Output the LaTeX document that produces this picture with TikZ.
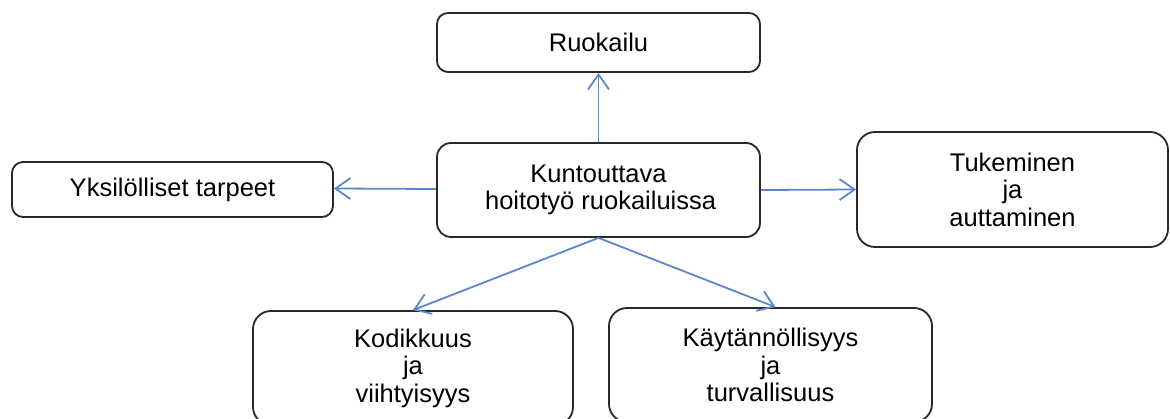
\documentclass[tikz,border=0pt]{standalone}
\usepackage{fontspec}
\setmainfont{Liberation Sans}
\usetikzlibrary{arrows.meta}
\definecolor{linkblue}{RGB}{92,135,198}
\definecolor{boxline}{RGB}{40,40,40}
\tikzset{
  topic/.style={draw=boxline, line width=1.8pt, rounded corners=14pt, fill=white,
    align=center, inner sep=0pt, text=black,
    font=\fontsize{25.5}{27.5}\selectfont},
  link/.style={draw=linkblue, line width=1.8pt,
    -{Straight Barb[length=15pt,width=21pt,line width=1.8pt]}},
}
\begin{document}
\begin{tikzpicture}[x=1pt,y=-1pt]
  \useasboundingbox (0,0) rectangle (1170,419);
  \clip (0,0) rectangle (1170,419);

  % central theme
  \node[topic, minimum width=323pt, minimum height=94pt] (cen) at (598.5,190)
    {Kuntouttava\\ \,hoitotyö ruokailuissa};

  % surrounding themes
  \node[topic, rounded corners=11pt, minimum width=323pt, minimum height=59pt] (ruo) at (598.5,42.5) {Ruokailu};
  \node[topic, rounded corners=11pt, minimum width=321pt, minimum height=55pt] (yks) at (172.5,189.5) {Yksilölliset tarpeet};
  \node[topic, rounded corners=18pt, minimum width=311pt, minimum height=115pt] (tuk) at (1012.5,189.5) {Tukeminen\\ja\\auttaminen};
  \node[topic, rounded corners=18pt, minimum width=320pt, minimum height=114pt] (kod) at (413,368) {Kodikkuus\\ja\\viihtyisyys};
  \node[topic, rounded corners=18pt, minimum width=323pt, minimum height=114pt] (kay) at (770.5,365) {Käytännöllisyys\\ja\\turvallisuus};

  % connectors
  \draw[link] (cen.north) -- (ruo.south);
  \draw[link] ([yshift=1pt]cen.west) -- ([yshift=1pt]yks.east);
  \draw[link] (cen.east) -- (tuk.west);
  \draw[link] (cen.south) -- (kod.north);
  \draw[link] (cen.south) -- ([xshift=5pt]kay.north);
\end{tikzpicture}
\end{document}
